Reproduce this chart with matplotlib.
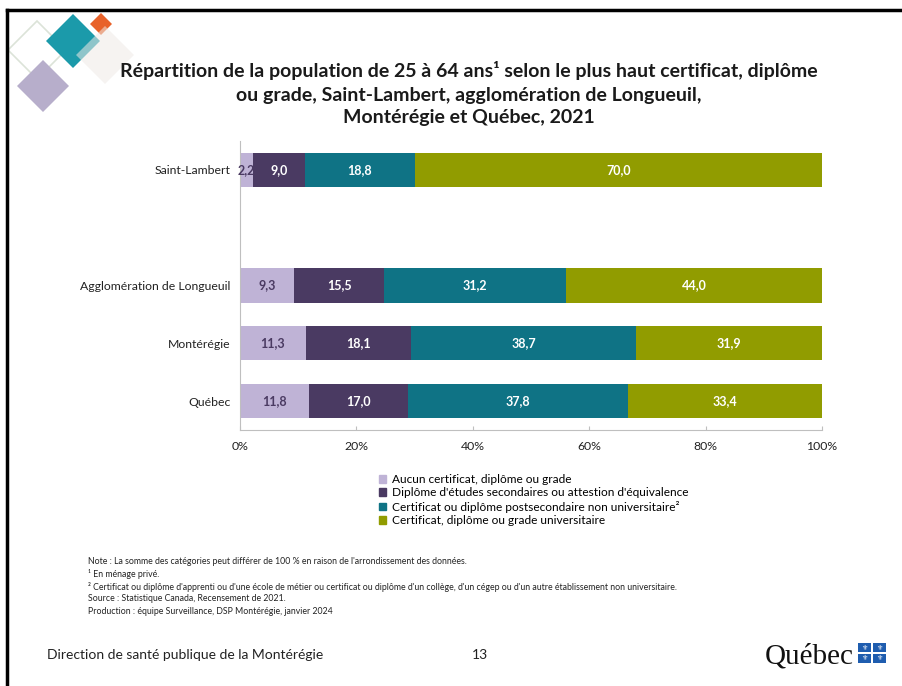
import numpy as np
import matplotlib
matplotlib.use("Agg")
import matplotlib.pyplot as plt
from matplotlib.patches import Rectangle, Polygon

plt.rcParams['font.family'] = ['Lato', 'DejaVu Sans']

# data (percent), top row first as shown
regions = ["Saint-Lambert", "", "Agglomération de Longueuil", "Montérégie", "Québec"]
aucun = [2.2, None, 9.3, 11.3, 11.8]
secondaire = [9.0, None, 15.5, 18.1, 17.0]
postsec = [18.8, None, 31.2, 38.7, 37.8]
univ = [70.0, None, 44.0, 31.9, 33.4]

series_names = ["Aucun certificat, diplôme ou grade",
                "Diplôme d'études secondaires ou attestion d'équivalence",
                "Certificat ou diplôme postsecondaire non universitaire²",
                "Certificat, diplôme ou grade universitaire"]
colors = ["#BFB3D6", "#4A3A62", "#0F7385", "#919C00"]
label_colors = ["#4A3A62", "white", "white", "white"]

xticks = [0, 20, 40, 60, 80, 100]

notes = ["Note : La somme des catégories peut différer de 100 % en raison de l'arrondissement des données.",
         "¹ En ménage privé.",
         "² Certificat ou diplôme d'apprenti ou d'une école de métier ou certificat ou diplôme d'un collège, d'un cégep ou d'un autre établissement non universitaire.",
         "Source : Statistique Canada, Recensement de 2021.",
         "Production : équipe Surveillance, DSP Montérégie, janvier 2024"]

fig = plt.figure(figsize=(9.02, 6.86), dpi=100)
W, H = 902, 686

def fx(px):
    return px / W

def fy(py):
    return 1 - py / H

# slide border (top and left)
fig.add_artist(plt.Line2D([fx(7), fx(902)], [fy(10), fy(10)], color="black", lw=2.5))
fig.add_artist(plt.Line2D([fx(7), fx(7)], [fy(10), fy(686)], color="black", lw=2.5))

# decorative diamonds top left
def diamond(cx, cy, r, fc, ec="none", alpha=1.0, lw=1):
    pts = [(fx(cx), fy(cy - r)), (fx(cx + r), fy(cy)), (fx(cx), fy(cy + r)), (fx(cx - r), fy(cy))]
    fig.add_artist(Polygon(pts, closed=True, facecolor=fc, edgecolor=ec,
                           alpha=alpha, lw=lw, transform=fig.transFigure))

diamond(37, 50, 29, "none", ec="#DCE3D8", lw=1.2)
diamond(73, 41, 27, "#1B9AAA")
diamond(101, 24, 11, "#E8622A")
diamond(105, 55, 29, "#EFEAE6", alpha=0.55)
diamond(43, 86, 26, "#B7AECB")

# title
tkw = dict(ha="center", va="center", fontsize=14, fontweight="bold", color="#1A1A1A")
fig.text(0.5195, fy(70), "Répartition de la population de 25 à 64 ans¹ selon le plus haut certificat, diplôme", **tkw)
fig.text(0.5195, fy(95), "ou grade, Saint-Lambert, agglomération de Longueuil,", **tkw)
fig.text(0.5195, fy(118), "Montérégie et Québec, 2021", **tkw)

# chart
ax = fig.add_axes([fx(240), fy(430), fx(822) - fx(240), fy(141) - fy(430)])
n = len(regions)
ypos = np.arange(n)[::-1]
series = [aucun, secondaire, postsec, univ]
for i, row in enumerate(regions):
    if not row:
        continue
    left = 0
    for s, vals in enumerate(series):
        v = vals[i]
        ax.barh(ypos[i], v, left=left, height=0.59, color=colors[s], edgecolor="none")
        ax.text(left + v / 2, ypos[i], f"{v:.1f}".replace(".", ","), ha="center", va="center",
                fontsize=9, fontweight="bold", color=label_colors[s])
        left += v

ax.set_xlim(0, 100)
ax.set_ylim(-0.5, n - 0.5)
ax.set_yticks(ypos)
ax.set_yticklabels(regions, fontsize=8.8, color="#222222")
ax.tick_params(axis="y", length=0, pad=7)
ax.set_xticks(xticks)
ax.set_xticklabels([f"{t}%" for t in xticks], fontsize=8.8, color="#222222")
ax.tick_params(axis="x", direction="in", length=3, color="#BFBFBF", pad=8)
for sp in ["top", "right"]:
    ax.spines[sp].set_visible(False)
for sp in ["left", "bottom"]:
    ax.spines[sp].set_color("#BFBFBF")
    ax.spines[sp].set_linewidth(0.8)

# legend
handles = [Rectangle((0, 0), 1, 1, color=c) for c in colors]
fig.legend(handles, series_names, loc="upper left", bbox_to_anchor=(fx(379), fy(474)),
           frameon=False, fontsize=8.6, handlelength=0.6, handleheight=0.6,
           handletextpad=0.45, labelspacing=0.2, borderaxespad=0, borderpad=0)

# notes
for k, line in enumerate(notes):
    fig.text(fx(88), fy(562 + k * 12.3), line, ha="left", va="center", fontsize=6.35, color="#222222")

# footer
fig.text(fx(47), fy(655), "Direction de santé publique de la Montérégie", ha="left", va="center",
         fontsize=10, color="#222222")
fig.text(fx(480), fy(655), "13", ha="center", va="center", fontsize=10, color="#222222")
fig.text(fx(854), fy(656), "Québec", ha="right", va="center", fontsize=21,
         family="Liberation Serif", color="#111111")
# flag mark
for (qx, qy) in [(858, 643), (873, 643), (858, 654), (873, 654)]:
    fig.add_artist(Rectangle((fx(qx), fy(qy + 9)), fx(13), 9 / H, facecolor="#1F5DAF",
                             edgecolor="none", transform=fig.transFigure))
    fig.text(fx(qx + 6.5), fy(qy + 4.5), "⚜", ha="center", va="center", fontsize=5,
             color="white", family="DejaVu Sans")

fig.savefig("out.png", dpi=100)
